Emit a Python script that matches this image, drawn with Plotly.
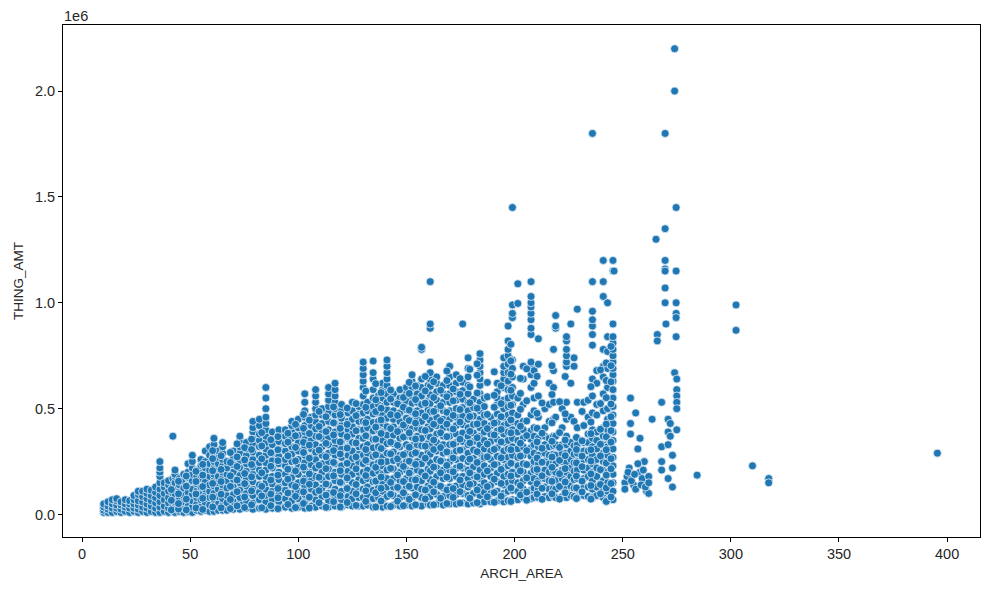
import plotly.graph_objects as go

# amounts below are in units of 10,000
areas_low = [10, 12, 14, 16, 18, 20, 22, 24, 26, 28, 30, 32, 34, 36, 38, 40, 42, 43, 45, 47, 49, 51, 53, 55, 57, 59]
amts_low = [
    [1, 2, 3.5, 5],
    [1, 2.5, 4, 6],
    [1, 3, 5, 7],
    [1.5, 3, 4.5, 6.5, 7.5],
    [1, 2.5, 4.5, 6],
    [1.5, 3.5, 5, 7],
    [1, 3, 5, 6.5],
    [1.5, 3, 5, 7, 9],
    [1, 2.5, 4.5, 6.5, 9.5, 11],
    [1.5, 3.5, 6, 8.5, 11],
    [1, 3, 5, 7.5, 10, 12],
    [1.5, 4, 6.5, 9, 11.5],
    [1, 3, 5.5, 8, 10.5, 13],
    [1, 3.5, 6, 9, 12, 15, 18, 20, 22, 25],
    [1.5, 4, 7, 10, 13, 15],
    [1, 3, 5.5, 8, 11, 14, 16],
    [1.5, 4, 7, 10, 13, 17],
    [1, 3.5, 6, 9.5, 12.5, 15, 18, 19, 21],
    [1.5, 4.5, 8, 11, 14, 17],
    [1, 3, 6, 9, 12.5, 16, 19],
    [1.5, 4, 7.5, 10.5, 14, 17.5, 20, 24],
    [1, 3.5, 6.5, 9.5, 12, 16, 19, 22, 25, 28],
    [2, 5, 8, 11, 14.5, 18, 21],
    [1.5, 4, 7, 10, 13, 17, 20, 23, 26],
    [2, 5.5, 9, 12, 15.5, 19, 22, 25, 30],
    [1.5, 4.5, 8, 11, 14, 18, 21, 24, 28, 32],
]

areas_mid = [61, 63, 65, 67, 70, 73, 76, 79, 82, 85, 88, 91, 94, 97, 100, 103, 106, 108, 111, 114, 117, 120, 123, 125, 128]
amts_mid = [
    [1.5, 4, 7, 10, 13.5, 16, 19, 22, 25, 28, 31, 33, 36],
    [2, 5, 8.5, 12, 15, 18, 21.5, 24, 27, 30],
    [2, 4.5, 7.5, 11, 14, 17, 20, 23, 26, 29, 32, 34],
    [2, 5.5, 9, 12.5, 16, 19, 22, 25],
    [2.5, 6, 9.5, 13, 16.5, 20, 23.5, 27, 30],
    [2.5, 5, 8, 11.5, 15, 18.5, 22, 25.5, 29, 32, 35, 37],
    [3, 6.5, 10, 13.5, 17, 20.5, 24, 28, 31, 34],
    [2.5, 5.5, 9, 12, 15.5, 19, 22.5, 26, 29.5, 33, 36, 39, 41, 44],
    [3, 7, 10.5, 14, 18, 21, 24.5, 28, 32, 35, 38, 42, 45],
    [2.5, 6, 9, 12, 15, 18, 21, 24.5, 28, 31, 34, 37, 40, 43, 46, 50, 55, 60],
    [3, 7, 11, 14.5, 18, 22, 25.5, 29, 33, 36, 39],
    [3, 6, 9.5, 13, 16.5, 20, 24, 27.5, 31, 34.5, 38, 40],
    [3.5, 7.5, 11.5, 15, 19, 23, 26, 30, 33.5, 37, 40],
    [3, 6.5, 10, 14, 17.5, 21, 25, 28.5, 32, 36, 39, 42, 44],
    [3.5, 7.5, 11, 15, 19, 22.5, 26, 30, 34, 37.5, 41, 45],
    [3, 6, 9.5, 13.5, 17, 21, 24.5, 28, 32, 35.5, 39, 42, 46, 49, 53, 57],
    [4, 8, 12, 16, 20, 23.5, 27, 31, 35, 38.5, 42, 46],
    [3.5, 7, 10.5, 14, 18, 22, 26, 29.5, 33, 37, 40.5, 44, 47, 50, 53, 56, 59],
    [4, 8.5, 12.5, 16.5, 20, 24, 28, 32, 36, 39.5, 43, 47, 50],
    [3.5, 6.5, 10, 14, 18, 21.5, 25, 29, 33, 36.5, 40, 44, 48, 51, 54, 57, 60],
    [4, 8, 12, 16, 20, 24, 28, 31.5, 35, 39, 43, 47, 50, 53, 56, 59, 62],
    [3.5, 7, 11, 15, 19, 23, 27, 31, 34.5, 38, 42, 45.5, 49, 52],
    [4.5, 8.5, 12.5, 16.5, 20.5, 24, 28, 32, 36, 40, 44, 48],
    [4, 7.5, 11, 15, 19, 23, 26.5, 30, 34, 38, 41.5, 45, 49, 53],
    [4, 8, 12, 16.5, 20, 24.5, 28.5, 32, 36, 40, 44, 47.5, 51],
]

areas_high = [130, 132, 134.6, 137, 139, 141, 144, 147, 150, 152.6, 155, 157, 160, 161, 164, 167, 170, 173, 176, 178.5, 181, 184, 186, 189, 192, 195, 197, 199]
amts_high = [
    [4, 8, 12, 16, 20, 24, 28, 32, 36, 40, 44, 48, 52, 56, 60, 63, 66, 69, 72],
    [4.5, 9, 13, 17, 21, 25, 29, 33, 37, 41, 45, 49, 53],
    [3.5, 7.5, 11.5, 15.5, 19.5, 23.5, 27.5, 31.5, 35.5, 39.5, 43.5, 47.5, 51, 55, 59, 64, 67, 72.5],
    [4, 8, 12.5, 16.5, 20.5, 24.5, 28.5, 32, 36, 40, 44, 48, 52, 56],
    [3.5, 7, 11, 15, 19, 23, 27, 31, 35, 39, 43, 47, 51, 55, 59, 62],
    [4, 8.5, 13, 17, 21, 25, 29, 33.5, 37.5, 41.5, 45.5, 49.5, 53, 57, 61, 64, 67, 70, 73],
    [4.5, 9, 13, 17, 21.5, 25.5, 29.5, 33.5, 37.5, 41.5, 45, 49, 53, 57],
    [4, 8, 12, 16, 20, 24, 28, 32, 36, 40, 44, 48, 52, 55, 59],
    [4.5, 8.5, 13, 17, 21, 25, 29, 33, 37, 41, 45.5, 49.5, 53.5, 57, 60],
    [4, 8, 12.5, 16.5, 20.5, 24.5, 28.5, 32.5, 36.5, 40.5, 44.5, 48.5, 52.5, 56, 60, 63, 66],
    [4.5, 9, 13, 17, 21, 25, 29, 33, 37, 41, 45, 49, 53, 57, 61],
    [4, 8, 12, 16, 20, 24, 28, 32.5, 36, 40, 44, 48, 52, 56, 60, 64, 78, 79],
    [5, 9, 13.5, 17.5, 21.5, 25.5, 29.5, 33.5, 37.5, 41.5, 45.5, 49.5, 53.5, 57.5, 61, 65],
    [4.5, 8.5, 12.5, 16.5, 20.5, 24.5, 28.5, 32.5, 36.5, 40.5, 44.5, 48.5, 52.5, 56.5, 60.5, 64, 67, 72, 88, 90, 110],
    [5, 9.5, 14, 18, 22, 26, 30, 34, 38, 42, 46, 50, 54, 58, 62, 65],
    [4.5, 8.5, 12.5, 17, 21, 25, 29, 33, 37, 41, 45, 49, 53, 57, 61],
    [5, 9, 13, 17, 21, 25, 29, 33, 37, 41, 45, 49, 53, 57, 61, 65, 70],
    [5, 9.5, 13.5, 18, 22, 26, 30, 34, 38, 42, 46, 50, 54, 58, 62, 66],
    [5.5, 10, 14, 18, 22, 26.5, 30.5, 34.5, 38.5, 42.5, 46.5, 50.5, 54.5, 58.5, 62.5, 90],
    [5, 9, 13, 17, 21, 25, 29, 33, 37, 41, 45, 49, 53, 57, 61, 65, 69, 74],
    [5.5, 10, 14.5, 18.5, 22.5, 26.5, 30.5, 34.5, 38.5, 42.5, 46.5, 50.5, 54.5],
    [5, 9, 13, 17, 21, 25, 29, 33, 37, 41, 45, 49, 53, 57, 61, 64, 67, 70, 73, 76],
    [6, 10.5, 15, 19, 23, 27, 31, 35, 39, 43, 47, 51, 55],
    [6, 10, 14, 18, 22, 26, 30, 34.5, 38, 42, 46],
    [6.5, 11, 15.5, 19.5, 23.5, 27.5, 31.5, 35.5, 39.5, 43.5, 47.5, 52, 55, 58, 62],
    [6, 10, 14, 18, 22, 26, 30, 34, 38, 42, 46, 50, 54, 60, 64, 67, 70, 74],
    [6.5, 11, 15, 19, 23, 27, 31, 35, 39, 43, 47, 51, 55, 59, 63, 67, 71, 75, 78, 82, 89],
    [7, 11.5, 16, 20, 24, 28, 32, 36, 40, 44, 48, 52, 56, 60, 65, 69, 73, 93, 95, 99],
]

areas_top = [201.5, 204, 207.6, 209, 211, 214, 216, 218, 219, 222, 224, 226, 227.5, 229, 232, 234, 236, 238, 241, 243, 245.5]
amts_top = [
    [7, 11, 15, 19, 23, 27, 31, 35, 39, 43, 47, 55, 99.7, 109],
    [8, 12, 16, 20, 24, 28, 32, 36, 40, 44, 52, 64, 70],
    [7.5, 11.5, 15.5, 19.5, 23.5, 27.5, 31.5, 35.5, 39.5, 47, 60, 66, 70, 72, 85, 88, 92, 95, 98, 100, 103, 110],
    [8, 12.5, 17, 21, 25, 29, 33, 37, 41, 49, 55, 62, 68],
    [8, 12, 16, 20, 24, 28, 32, 36, 46, 56, 71, 83],
    [8.5, 13, 17, 21, 25, 29, 33, 37, 41, 50],
    [8, 12, 16, 20, 24, 28, 32, 36, 44, 52, 62],
    [8.5, 12.5, 16.5, 20.5, 24.5, 28.5, 32.5, 37, 45, 53, 60, 68, 78],
    [8, 12, 16, 20, 24, 28, 33, 37, 46, 88, 89, 94],
    [8.5, 13, 17, 21, 25, 29, 33, 41, 50],
    [8, 12, 16, 20, 24.5, 29, 33, 37, 45, 53, 70, 72, 75, 78, 82, 84],
    [9, 13.5, 18, 22, 26, 30, 34, 46, 62, 90],
    [8.5, 12.5, 16.5, 20.5, 24.5, 28.5, 32.5, 44, 70, 74],
    [8, 12, 17, 21, 25, 29, 33, 41, 53, 97],
    [9, 13, 17, 21, 26, 30, 34, 42, 53],
    [8.5, 13, 18, 22, 26, 30, 34, 38, 46, 54],
    [8, 12, 16, 20, 24, 28, 32, 36, 40, 48, 56, 64, 80, 85, 89, 92, 96, 110],
    [9, 13, 18, 22, 26, 31, 35, 39, 47, 52, 62, 68],
    [8, 12, 16, 21, 25, 29, 33, 37, 41, 49, 57, 65, 70, 78, 103, 110, 120],
    [7, 11, 15, 20, 24, 28, 32, 36, 40, 45, 50, 60, 69, 77, 84, 100],
    [7, 11, 15, 19, 23, 27, 31, 35, 39, 43, 47, 51, 55, 59, 63, 66, 69, 72, 75, 78, 81, 84, 90, 115, 120],
]

# loose points sitting on top of the dense columns
areas_loose = [41.3, 44.6, 48.2, 52.7, 55.8, 60.4, 64.3, 68.6, 71.7, 75.2, 78.4, 83.1, 87.3, 90.6, 95.2, 98.7, 102.4, 105.1, 109.6,
               112.8, 116.3, 119.4, 122.6, 126.7, 131.2, 135.8, 138.3, 142.7, 145.9, 148.6, 151.3, 154.2, 158.7, 162.6, 165.8,
               168.7, 171.6, 174.8, 179.3, 182.7, 187.4, 190.6, 193.8, 198.3, 202.7, 205.6, 210.4, 212.7, 217.3, 220.8, 223.4,
               228.6, 231.2, 235.3, 239.7, 242.4, 244.6]
amts_loose = [
    [2.2, 6.7, 11.8],
    [2.6, 5.2, 9.8, 15.7],
    [2.2, 7.3, 13.4, 18.2],
    [3.1, 9.7, 15.6, 20.4],
    [2.4, 7.7, 13.2, 18.6, 23.7],
    [3.6, 8.2, 14.7, 20.7, 26.4, 30.2],
    [3.2, 9.6, 15.6, 21.3, 27.8],
    [2.8, 7.1, 13.3, 18.3, 24.6, 29.3],
    [4.1, 10.8, 16.3, 22.7, 27.2, 33.4],
    [3.3, 8.3, 14.6, 19.4, 25.8, 31.6],
    [4.6, 11.2, 17.8, 23.6, 30.7, 35.6],
    [3.2, 8.8, 13.3, 19.7, 26.3, 32.4, 38.7],
    [4.2, 9.7, 16.3, 22.8, 29.2, 35.3],
    [2.8, 7.9, 12.3, 18.6, 25.4, 30.6, 36.8],
    [4.8, 10.2, 16.7, 21.4, 27.7, 34.2, 38.4],
    [3.3, 8.6, 13.2, 20.6, 25.3, 31.7, 37.2, 42.6],
    [5.2, 10.7, 15.8, 22.4, 29.3, 34.1, 40.7, 47.3],
    [3.1, 8.2, 14.3, 19.2, 26.6, 32.8, 38.3, 44.6],
    [5.6, 11.3, 17.6, 23.3, 30.4, 36.8, 41.6, 48.7],
    [3.4, 9.2, 14.4, 21.7, 27.3, 33.6, 39.2, 46.2],
    [6.1, 10.4, 18.3, 24.6, 30.2, 37.6, 43.3, 50.8],
    [3.6, 8.9, 15.2, 20.7, 28.6, 34.3, 40.7, 47.2],
    [5.7, 12.3, 17.3, 24.2, 31.4, 36.8, 42.6, 50.3],
    [4.3, 9.8, 14.2, 21.6, 27.2, 33.8, 39.6, 46.7, 52.4],
    [6.2, 11.2, 18.4, 25.6, 30.7, 37.2, 43.4, 50.6, 58.3],
    [3.6, 10.3, 15.8, 22.3, 28.2, 35.6, 41.3, 48.6, 54.2, 61.8],
    [6.4, 12.4, 17.7, 24.8, 31.2, 38.3, 44.7, 50.2, 57.6],
    [3.8, 9.6, 15.2, 21.8, 28.7, 34.2, 40.6, 47.2, 54.6, 58.8],
    [6.3, 12.8, 18.7, 26.3, 32.7, 39.2, 46.8, 52.3],
    [4.2, 10.3, 15.6, 22.7, 28.3, 36.6, 42.3, 50.7, 55.3],
    [7.2, 13.3, 19.6, 25.2, 31.8, 38.6, 44.4, 49.3, 57.2, 62.4],
    [4.6, 9.3, 16.4, 23.7, 29.2, 35.7, 43.2, 47.6, 54.3, 60.7],
    [7.4, 11.6, 18.2, 26.6, 32.3, 39.7, 46.3, 52.6, 58.4, 65.2],
    [4.6, 10.7, 15.3, 22.4, 30.7, 35.2, 42.6, 48.7, 55.3, 62.7],
    [7.7, 13.4, 19.7, 25.3, 31.6, 38.6, 44.3, 51.4, 58.7],
    [5.2, 11.6, 17.6, 23.2, 29.6, 36.8, 42.7, 48.3, 55.6, 63.3, 67.8],
    [8.1, 12.3, 20.2, 26.7, 33.2, 40.4, 46.8, 53.7, 59.3],
    [5.4, 10.8, 16.3, 22.8, 30.4, 35.6, 43.7, 49.6, 56.8, 64.2],
    [7.7, 14.3, 19.7, 26.2, 33.8, 39.3, 46.3, 52.8, 60.3, 68.6],
    [5.6, 11.6, 17.8, 24.6, 29.7, 36.3, 42.8, 50.2, 57.4, 65.8, 71.2],
    [8.4, 13.2, 20.6, 27.3, 33.3, 40.6, 47.3, 55.6, 62.4],
    [5.8, 10.4, 16.7, 23.6, 30.8, 37.6, 43.2, 50.7, 56.3, 67.4],
    [8.7, 14.7, 21.3, 26.8, 34.3, 40.2, 46.2, 52.4, 60.8],
    [6.2, 12.6, 18.2, 24.2, 30.6, 38.6, 44.7, 51.6, 58.7, 66.3, 72.6, 80.4],
    [9.3, 13.7, 20.6, 27.6, 33.7, 41.7, 49.7, 57.2, 64.3],
    [6.8, 10.6, 17.3, 23.6, 30.2, 37.3, 44.2, 53.7, 68.8],
    [9.7, 14.6, 21.3, 26.7, 34.3, 40.7, 47.8, 65.3],
    [7.2, 12.4, 18.3, 24.7, 31.3, 38.4, 52.7],
    [9.8, 15.7, 22.3, 27.2, 34.6, 43.3, 56.7, 70.3],
    [7.3, 13.3, 19.3, 25.6, 31.7, 38.7, 53.3],
    [10.3, 15.4, 21.7, 27.8, 35.2, 47.6, 65.2],
    [7.6, 12.6, 18.2, 24.4, 30.7, 36.4],
    [10.7, 15.8, 22.6, 27.6, 34.8, 48.7],
    [7.3, 13.7, 19.2, 25.3, 30.6, 38.2, 43.7, 60.4],
    [9.8, 14.2, 21.2, 27.7, 33.2, 40.3, 52.4, 68.3],
    [6.2, 12.6, 18.6, 24.3, 30.6, 36.7, 42.7, 55.2, 63.3, 71.6],
    [8.3, 14.7, 21.6, 26.4, 34.2, 39.6, 46.2, 52.2, 62.7, 70.3, 79.4],
]

# sparse points out on the right and the tall outliers
areas_sparse = [42, 199, 236, 246, 251, 252, 253, 253.6, 253.6, 253.6, 255, 256, 256, 257, 258, 258, 259, 260, 261, 262, 262,
                263.6, 265.4, 266, 266, 268, 268, 268, 268, 269.6, 269.6, 269.6, 269.6, 269.6, 269.6, 269.6,
                270, 271, 271, 271, 271, 272, 272, 273, 273, 273, 274, 274, 274, 274.7, 274.7, 274.7, 274.7, 274.7,
                274.7, 275, 275, 275, 275, 275, 275, 284.4, 302.4, 302.4, 310, 317.5, 317.5, 395.5,
                251, 252.5, 254, 255.5, 257, 258.5, 259.5, 260.5, 262]
amts_sparse = [37, 145, 180, 115, 15, 18, 22, 55, 43, 38, 14, 12, 48, 31, 36, 20, 17, 25, 11, 18, 10,
               45, 130, 85, 82, 53, 32, 25, 21, 180, 135, 120, 116, 115, 107, 100,
               90, 45, 39, 33, 17, 43, 37, 28, 22, 13, 220, 200, 67, 145, 115, 100, 95, 93,
               84, 64, 59, 56, 53, 50, 40, 18.6, 99, 87, 23, 17, 15, 29,
               12, 20, 16, 19, 24, 14, 21, 13, 15]

x_ticks = [0, 50, 100, 150, 200, 250, 300, 350, 400]
y_ticks = [0, 500000, 1000000, 1500000, 2000000]
y_tick_labels = ['0.0', '0.5', '1.0', '1.5', '2.0']

x = []
y = []
for col_areas, col_amts in [(areas_low, amts_low), (areas_mid, amts_mid), (areas_high, amts_high),
                            (areas_top, amts_top), (areas_loose, amts_loose)]:
    for area, amts in zip(col_areas, col_amts):
        for amt in amts:
            x.append(area)
            y.append(amt * 10000)
for area, amt in zip(areas_sparse, amts_sparse):
    x.append(area)
    y.append(amt * 10000)

fig = go.Figure(go.Scatter(x=x, y=y, mode='markers',
                           marker=dict(size=8, color='#1f77b4', line=dict(color='#e6eff6', width=0.8))))

font_name = 'Liberation Sans'
text_color = '#262626'
axis_style = dict(showgrid=False, zeroline=False, showline=True, mirror=True, linecolor='black', linewidth=1,
                  ticks='outside', ticklen=4, tickcolor='black',
                  tickfont=dict(family=font_name, size=14.5, color=text_color))
fig.update_xaxes(range=[-8.8, 415.2], tickvals=x_ticks, **axis_style,
                 title=dict(text='ARCH_AREA', font=dict(family=font_name, size=13.5, color=text_color), standoff=7))
fig.update_yaxes(range=[-106000, 2312000], tickvals=y_ticks, ticktext=y_tick_labels, **axis_style,
                 title=dict(text='THING_AMT', font=dict(family=font_name, size=13.5, color=text_color), standoff=8))
fig.add_annotation(text='1e6', xref='paper', yref='paper', x=0, y=1, xanchor='left', yanchor='bottom', borderpad=0,
                   showarrow=False, font=dict(family=font_name, size=14.5, color=text_color))
# the page body adds 8px on the left and top, so the figure is a little smaller than the window
fig.update_layout(width=981, height=582, margin=dict(l=55, r=9, t=17, b=53),
                  paper_bgcolor='white', plot_bgcolor='white', showlegend=False)
fig.write_html("out.html")
